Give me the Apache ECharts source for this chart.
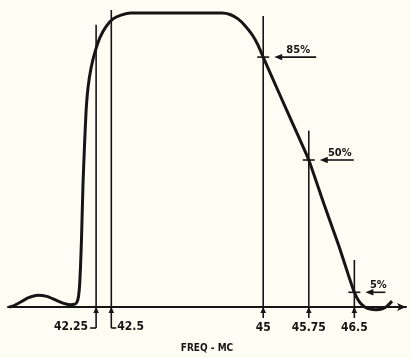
<!DOCTYPE html>
<html>
<head>
<meta charset="utf-8">
<script src="https://cdn.jsdelivr.net/npm/echarts@6/dist/echarts.min.js"></script>
<style>
  html, body { margin: 0; padding: 0; background: #fdfdf4; }
  #chart { width: 411px; height: 358px; }
</style>
</head>
<body>
<div id="chart"></div>
<script>
// IF response curve: frequency (MC) vs relative response (%)
const freq = [
  40.82, 40.90, 41.00, 41.13, 41.29, 41.44, 41.57, 41.705, 41.82, 41.903,
  41.936, 41.96, 41.977, 41.993, 42.010, 42.034, 42.059, 42.084, 42.117, 42.166,
  42.232, 42.314, 42.413, 42.528, 42.66, 42.824, 43.50, 44.322, 44.454, 44.585,
  44.701, 44.816, 44.915, 45.00, 45.25, 45.50, 45.75, 46.00, 46.25, 46.40,
  46.50, 46.58, 46.66, 46.76, 46.86, 46.96, 47.04, 47.12
];
const response = [
  0.0, 0.5, 1.6, 3.1, 4.0, 3.6, 2.5, 1.3, 0.8, 1.0,
  1.7, 3.6, 6.9, 13.5, 23.4, 41.6, 54.8, 66.3, 74.6, 81.2,
  86.8, 91.7, 95.4, 98.0, 99.3, 100, 100, 100, 99.5, 98.0,
  95.7, 92.7, 89.1, 85, 73.3, 61.7, 50, 35, 20.5, 11,
  5, 1.8, 0.2, -0.7, -0.9, -0.6, 0.3, 2.0
];

// Marked frequencies along the axis
const markerFreqs = [42.25, 42.5, 45, 45.75, 46.5];
const markerLabels = ['42.25', '42.5', '45', '45.75', '46.5'];
const markerTops = [96, 101, 99, 60, 16];

// Response levels called out on the skirt
const levelFreqs = [45, 45.75, 46.5];
const levelValues = [85, 50, 5];
const levelLabels = ['85%', '50%', '5%'];

// Layout details for the labels
const hookSide = ['left', 'right', null, null, null];
const calloutLength = [42, 34, 20];

const ink = '#151515';
const tickFont = 'bold 12px "DejaVu Sans Condensed", "DejaVu Sans", sans-serif';
const levelFont = 'bold 11px "DejaVu Sans Condensed", "DejaVu Sans", sans-serif';

const chart = echarts.init(document.getElementById('chart'), null, { renderer: 'canvas' });

chart.setOption({
  backgroundColor: '#fdfdf4',
  animation: false,
  grid: { left: 8, right: 5, top: 13, bottom: 42 },
  xAxis: {
    type: 'value',
    min: 40.8,
    max: 47.35,
    name: 'FREQ - MC',
    nameLocation: 'middle',
    nameGap: 36,
    nameTextStyle: {
      color: ink,
      fontSize: 10,
      fontWeight: 'bold',
      fontFamily: '"DejaVu Sans Condensed", "DejaVu Sans", sans-serif'
    },
    axisLine: {
      show: true,
      symbol: ['none', 'arrow'],
      symbolSize: [6, 9],
      lineStyle: { color: ink, width: 2 }
    },
    axisTick: { show: false },
    axisLabel: { show: false },
    splitLine: { show: false }
  },
  yAxis: {
    type: 'value',
    min: 0,
    max: 100,
    show: false,
    splitLine: { show: false }
  },
  series: [
    {
      type: 'line',
      data: freq.map((f, i) => [f, response[i]]),
      smooth: 0.15,
      showSymbol: false,
      clip: false,
      lineStyle: { color: ink, width: 3 },
      z: 3
    },
    {
      type: 'custom',
      clip: false,
      data: markerFreqs.map((f, i) => [f, markerTops[i]]),
      renderItem: function (params, api) {
        const i = params.dataIndex;
        const top = api.coord([api.value(0), api.value(1)]);
        const base = api.coord([api.value(0), 0]);
        const x = base[0];
        const y0 = base[1];
        const side = hookSide[i];
        const stemEnd = side ? y0 + 21 : y0 + 11;
        const lineStyle = { stroke: ink, lineWidth: 1.6 };
        const children = [
          { type: 'line', shape: { x1: x, y1: top[1], x2: x, y2: y0 }, style: lineStyle },
          { type: 'line', shape: { x1: x, y1: y0, x2: x, y2: stemEnd }, style: lineStyle },
          { type: 'polygon', shape: { points: [[x, y0], [x - 2.8, y0 + 6], [x + 2.8, y0 + 6]] }, style: { fill: ink } }
        ];
        if (side === 'left') {
          children.push({ type: 'line', shape: { x1: x, y1: stemEnd, x2: x - 6, y2: stemEnd }, style: lineStyle });
          children.push({ type: 'text', style: { text: markerLabels[i], x: x - 8, y: y0 + 20, align: 'right', verticalAlign: 'middle', font: tickFont, fill: ink } });
        } else if (side === 'right') {
          children.push({ type: 'line', shape: { x1: x, y1: stemEnd, x2: x + 5, y2: stemEnd }, style: lineStyle });
          children.push({ type: 'text', style: { text: markerLabels[i], x: x + 6, y: y0 + 20, align: 'left', verticalAlign: 'middle', font: tickFont, fill: ink } });
        } else {
          children.push({ type: 'text', style: { text: markerLabels[i], x: x, y: y0 + 21, align: 'center', verticalAlign: 'middle', font: tickFont, fill: ink } });
        }
        return { type: 'group', children: children };
      },
      z: 2
    },
    {
      type: 'custom',
      clip: false,
      data: levelFreqs.map((f, i) => [f, levelValues[i]]),
      renderItem: function (params, api) {
        const i = params.dataIndex;
        const p = api.coord([api.value(0), api.value(1)]);
        const x = p[0];
        const y = p[1];
        const tip = x + 11;
        const end = tip + calloutLength[i];
        const lineStyle = { stroke: ink, lineWidth: 1.6 };
        return {
          type: 'group',
          children: [
            { type: 'line', shape: { x1: x - 6, y1: y, x2: x + 6, y2: y }, style: lineStyle },
            { type: 'line', shape: { x1: tip + 4, y1: y, x2: end, y2: y }, style: lineStyle },
            { type: 'polygon', shape: { points: [[tip, y], [tip + 8, y - 3.2], [tip + 8, y + 3.2]] }, style: { fill: ink } },
            { type: 'text', style: { text: levelLabels[i], x: (tip + end) / 2 + 3, y: y - 1.5, align: 'center', verticalAlign: 'bottom', font: levelFont, fill: ink } }
          ]
        };
      },
      z: 4
    }
  ]
});
</script>
</body>
</html>
